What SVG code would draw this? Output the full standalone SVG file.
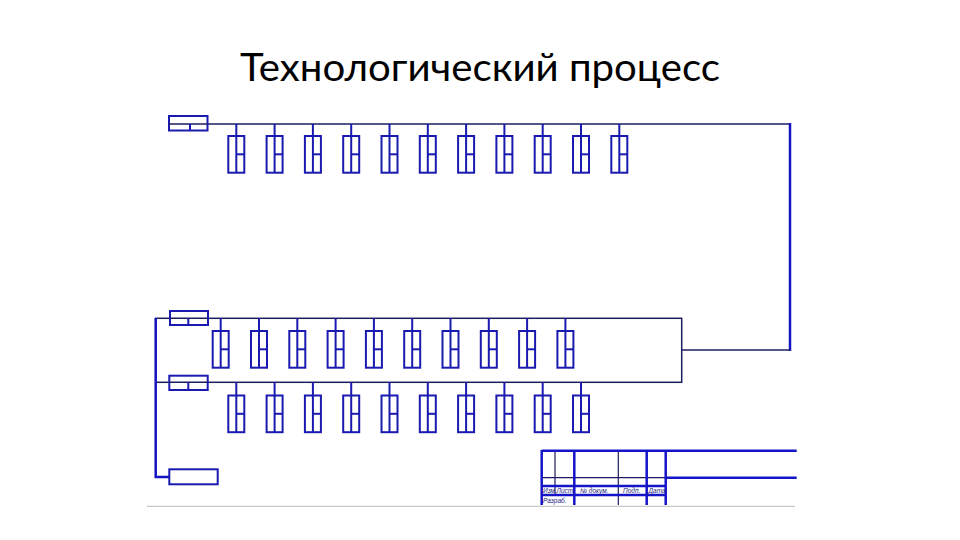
<svg xmlns="http://www.w3.org/2000/svg" width="960" height="540" viewBox="0 0 960 540">
<style>
.bg{fill:#ffffff}
.title{font-family:Lato,"Open Sans","Liberation Sans",sans-serif;font-size:39px;fill:#000}
.bx{fill:#ffffff;stroke:#1a1ab0;stroke-width:2}
.hd{fill:#ffffff;stroke:#1a1ab0;stroke-width:2}
.in{stroke:#1a1ab0;stroke-width:2;fill:none}
.thin{stroke:#1c1c60;stroke-width:1.5;fill:none}
.thick{stroke:#1414c0;stroke-width:2.5;fill:none}
.tb{stroke:#1414c8;stroke-width:2.5;fill:none}
.tbt{stroke:#1c1c60;stroke-width:1.2;fill:none}
.lbl{font-family:"Liberation Sans",sans-serif;font-style:italic;font-size:6.5px;fill:#1c1c80}
</style>
<defs>
<g id="box">
<rect class="bx" x="0" y="0" width="16" height="36.7"/>
<line class="in" x1="8" y1="0" x2="8" y2="36.7"/>
<line class="in" x1="8" y1="18.3" x2="16" y2="18.3"/>
</g>
</defs>
<rect class="bg" width="960" height="540"/>
<text class="title" x="480" y="81" text-anchor="middle" textLength="480" lengthAdjust="spacingAndGlyphs">Технологический процесс</text>

<g id="connectors">
<line class="thin" x1="207" y1="124" x2="790" y2="124"/>
<line class="thick" x1="790" y1="123" x2="790" y2="351"/>
<line class="thin" x1="681.5" y1="350" x2="790" y2="350"/>
<rect class="thin" x="155.7" y="318.3" width="526" height="64"/>
<polyline class="thick" points="155.7,318 155.7,477 169.3,477"/>
<g class="in">
<line x1="236.3" y1="124" x2="236.3" y2="136"/>
<line x1="274.6" y1="124" x2="274.6" y2="136"/>
<line x1="312.9" y1="124" x2="312.9" y2="136"/>
<line x1="351.2" y1="124" x2="351.2" y2="136"/>
<line x1="389.5" y1="124" x2="389.5" y2="136"/>
<line x1="427.8" y1="124" x2="427.8" y2="136"/>
<line x1="466.1" y1="124" x2="466.1" y2="136"/>
<line x1="504.4" y1="124" x2="504.4" y2="136"/>
<line x1="542.7" y1="124" x2="542.7" y2="136"/>
<line x1="581.0" y1="124" x2="581.0" y2="136"/>
<line x1="619.3" y1="124" x2="619.3" y2="136"/>
<line x1="220.7" y1="318.3" x2="220.7" y2="331"/>
<line x1="259.0" y1="318.3" x2="259.0" y2="331"/>
<line x1="297.3" y1="318.3" x2="297.3" y2="331"/>
<line x1="335.6" y1="318.3" x2="335.6" y2="331"/>
<line x1="373.9" y1="318.3" x2="373.9" y2="331"/>
<line x1="412.2" y1="318.3" x2="412.2" y2="331"/>
<line x1="450.5" y1="318.3" x2="450.5" y2="331"/>
<line x1="488.8" y1="318.3" x2="488.8" y2="331"/>
<line x1="527.1" y1="318.3" x2="527.1" y2="331"/>
<line x1="565.4" y1="318.3" x2="565.4" y2="331"/>
<line x1="236.3" y1="382.3" x2="236.3" y2="395"/>
<line x1="274.6" y1="382.3" x2="274.6" y2="395"/>
<line x1="312.9" y1="382.3" x2="312.9" y2="395"/>
<line x1="351.2" y1="382.3" x2="351.2" y2="395"/>
<line x1="389.5" y1="382.3" x2="389.5" y2="395"/>
<line x1="427.8" y1="382.3" x2="427.8" y2="395"/>
<line x1="466.1" y1="382.3" x2="466.1" y2="395"/>
<line x1="504.4" y1="382.3" x2="504.4" y2="395"/>
<line x1="542.7" y1="382.3" x2="542.7" y2="395"/>
<line x1="581.0" y1="382.3" x2="581.0" y2="395"/>
</g>
</g>

<g id="header1">
<rect class="hd" x="169" y="116" width="38.5" height="14.5"/>
<line class="thin" x1="169" y1="124" x2="207.5" y2="124"/>
<line class="in" x1="190" y1="124" x2="190" y2="130.5"/>
</g>
<g id="header2">
<rect class="hd" x="170" y="311" width="38" height="14"/>
<line class="thin" x1="170" y1="318.3" x2="208" y2="318.3"/>
<line class="in" x1="188.3" y1="318.3" x2="188.3" y2="325"/>
</g>
<g id="header3">
<rect class="hd" x="169.3" y="375.7" width="38.4" height="14.3"/>
<line class="thin" x1="169.3" y1="382.3" x2="207.7" y2="382.3"/>
<line class="in" x1="188.3" y1="382.3" x2="188.3" y2="390"/>
</g>
<g id="header4">
<rect class="hd" x="169.3" y="469.3" width="48.4" height="15"/>
</g>

<g id="top-row">
<use id="t1" href="#box" x="228.3" y="136"/>
<use id="t2" href="#box" x="266.6" y="136"/>
<use id="t3" href="#box" x="304.9" y="136"/>
<use id="t4" href="#box" x="343.2" y="136"/>
<use id="t5" href="#box" x="381.5" y="136"/>
<use id="t6" href="#box" x="419.8" y="136"/>
<use id="t7" href="#box" x="458.1" y="136"/>
<use id="t8" href="#box" x="496.4" y="136"/>
<use id="t9" href="#box" x="534.7" y="136"/>
<use id="t10" href="#box" x="573.0" y="136"/>
<use id="t11" href="#box" x="611.3" y="136"/>
</g>
<g id="mid-row">
<use id="m1" href="#box" x="212.7" y="331"/>
<use id="m2" href="#box" x="251.0" y="331"/>
<use id="m3" href="#box" x="289.3" y="331"/>
<use id="m4" href="#box" x="327.6" y="331"/>
<use id="m5" href="#box" x="365.9" y="331"/>
<use id="m6" href="#box" x="404.2" y="331"/>
<use id="m7" href="#box" x="442.5" y="331"/>
<use id="m8" href="#box" x="480.8" y="331"/>
<use id="m9" href="#box" x="519.1" y="331"/>
<use id="m10" href="#box" x="557.4" y="331"/>
</g>
<g id="bottom-row">
<use id="b1" href="#box" x="228.3" y="395.5"/>
<use id="b2" href="#box" x="266.6" y="395.5"/>
<use id="b3" href="#box" x="304.9" y="395.5"/>
<use id="b4" href="#box" x="343.2" y="395.5"/>
<use id="b5" href="#box" x="381.5" y="395.5"/>
<use id="b6" href="#box" x="419.8" y="395.5"/>
<use id="b7" href="#box" x="458.1" y="395.5"/>
<use id="b8" href="#box" x="496.4" y="395.5"/>
<use id="b9" href="#box" x="534.7" y="395.5"/>
<use id="b10" href="#box" x="573.0" y="395.5"/>
</g>

<g id="title-block">
<line class="tbt" x1="541.7" y1="477.7" x2="665.7" y2="477.7"/>
<line class="tbt" x1="555" y1="450.7" x2="555" y2="495"/>
<line class="tbt" x1="618.3" y1="450.7" x2="618.3" y2="505"/>
<line class="tb" x1="541.7" y1="450.7" x2="796.7" y2="450.7"/>
<line class="tb" x1="665.7" y1="477.7" x2="796.7" y2="477.7"/>
<line class="tb" x1="541.7" y1="486" x2="665.7" y2="486"/>
<line class="tb" x1="541.7" y1="495" x2="665.7" y2="495"/>
<line class="tb" x1="541.7" y1="450" x2="541.7" y2="505"/>
<line class="tb" x1="574.3" y1="450" x2="574.3" y2="505"/>
<line class="tb" x1="646.7" y1="450" x2="646.7" y2="505"/>
<line class="tb" x1="665.7" y1="450" x2="665.7" y2="505"/>
<text class="lbl" x="543" y="493.3">Изм.</text>
<text class="lbl" x="556.5" y="493.3">Лист</text>
<text class="lbl" x="580" y="493.3">№ докум.</text>
<text class="lbl" x="623" y="493.3">Подп.</text>
<text class="lbl" x="648.5" y="493.3">Дата</text>
<text class="lbl" x="543" y="502.5">Разраб.</text>
</g>
<line x1="147" y1="506.3" x2="795" y2="506.3" stroke="#c8c8c8" stroke-width="1.2"/>
</svg>
